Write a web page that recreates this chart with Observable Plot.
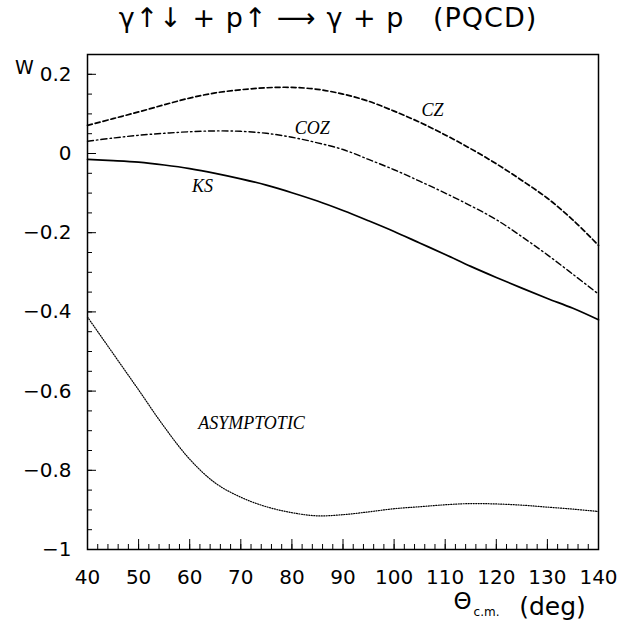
<!DOCTYPE html>
<html><head><meta charset="utf-8">
<script src="https://cdn.jsdelivr.net/npm/d3@7"></script>
<script src="https://cdn.jsdelivr.net/npm/@observablehq/plot@0.6"></script>
<style>body{margin:0;background:#fff}</style>
</head><body><div id="chart"></div>
<script>
// Data
const theta = [40,45,50,55,60,65,70,75,80,85,90,95,100,105,110,115,120,125,130,135,140];
const czValues   = [0.071,0.088,0.105,0.123,0.140,0.153,0.161,0.166,0.167,0.162,0.150,0.132,0.107,0.079,0.047,0.012,-0.026,-0.068,-0.113,-0.168,-0.232];
const cozValues  = [0.031,0.039,0.046,0.051,0.055,0.057,0.056,0.051,0.041,0.027,0.010,-0.015,-0.041,-0.070,-0.100,-0.132,-0.167,-0.210,-0.256,-0.305,-0.355];
const ksValues   = [-0.015,-0.018,-0.022,-0.029,-0.038,-0.050,-0.064,-0.080,-0.099,-0.120,-0.144,-0.170,-0.197,-0.226,-0.255,-0.285,-0.313,-0.340,-0.366,-0.391,-0.420];
const asymValues = [-0.413,-0.505,-0.597,-0.690,-0.772,-0.832,-0.868,-0.892,-0.907,-0.915,-0.912,-0.905,-0.897,-0.892,-0.887,-0.884,-0.885,-0.888,-0.893,-0.898,-0.904];

const seriesNames = ["CZ","COZ","KS","ASYMPTOTIC"];
const seriesValues = [czValues, cozValues, ksValues, asymValues];
const labelTheta = [107.5, 84.0, 62.5, 72.1];
const labelValue = [0.109, 0.063, -0.083, -0.682];

const xMajorTicks = [40,50,60,70,80,90,100,110,120,130,140];
const xMinorTicks = d3.range(40, 141, 2);
const yMajorTicks = [-1,-0.8,-0.6,-0.4,-0.2,0,0.2];
const yMinorTicks = d3.range(-1, 0.2501, 0.05).map(v => +v.toFixed(2));

const titleText = "γ↑↓ + p↑ ⟶ γ + p \u00a0 (PQCD)";
const yLabelText = "W";

const styles = {
  CZ: {strokeDasharray: "5,3", strokeWidth: 1.7},
  COZ: {strokeDasharray: "6,3,1.5,3", strokeWidth: 1.4},
  KS: {strokeDasharray: null, strokeWidth: 1.7},
  ASYMPTOTIC: {strokeDasharray: "1,1.5", strokeWidth: 1.2}
};

const lineMarks = seriesNames.map((name, i) => {
  const data = theta.map((t, j) => ({theta: t, value: seriesValues[i][j]}));
  return Plot.line(data, {x: "theta", y: "value", stroke: "black", curve: "catmull-rom", ...styles[name]});
});

const labels = seriesNames.map((n, i) => ({name: n, theta: labelTheta[i], value: labelValue[i]}));
const fmt = d => d === 0 ? "0" : (d < 0 ? "\u2212" : "") + String(Math.abs(d));
const sans = "'DejaVu Sans', sans-serif";

const plot = Plot.plot({
  width: 637, height: 623,
  marginLeft: 87, marginRight: 39, marginTop: 54, marginBottom: 74,
  style: {fontFamily: sans, fontSize: "20px", background: "white", color: "black"},
  x: {domain: [40, 140]},
  y: {domain: [-1, 0.25]},
  marks: [
    ...lineMarks,
    Plot.text(labels, {x: "theta", y: "value", text: "name", fontFamily: "'Liberation Serif', serif", fontStyle: "italic", fontSize: 18, fill: "black"}),
    Plot.frame({stroke: "black", strokeWidth: 1.5}),
    Plot.axisX({ticks: xMajorTicks, tickSize: -10, tickPadding: 30, tickFormat: d => String(d), label: null, fontSize: 20}),
    Plot.axisX({ticks: xMinorTicks, tickSize: -5, tickFormat: () => "", label: null}),
    Plot.axisY({ticks: yMajorTicks, tickSize: -9, tickPadding: 25, tickFormat: fmt, label: null, fontSize: 20}),
    Plot.axisY({ticks: yMinorTicks, tickSize: -5, tickFormat: () => "", label: null}),
    Plot.text([titleText], {frameAnchor: "top", lineAnchor: "middle", textAnchor: "middle", dy: -36, dx: -15, fontSize: 27, fill: "black"}),
    Plot.text([yLabelText], {frameAnchor: "top-left", lineAnchor: "middle", textAnchor: "middle", dx: -63, dy: 13, fontSize: 19, fill: "black"}),
    Plot.text(["Θ"], {frameAnchor: "bottom-right", lineAnchor: "middle", textAnchor: "middle", dx: -136, dy: 52, fontSize: 23, fill: "black"}),
    Plot.text(["c.m."], {frameAnchor: "bottom-right", lineAnchor: "middle", textAnchor: "middle", dx: -112, dy: 63, fontSize: 12, fill: "black"}),
    Plot.text(["(deg)"], {frameAnchor: "bottom-right", lineAnchor: "middle", textAnchor: "middle", dx: -46, dy: 57, fontSize: 25, fill: "black"})
  ]
});
d3.select(plot).selectAll("text").filter(function() { return this.textContent === titleText; }).attr("letter-spacing", 1);
document.getElementById("chart").appendChild(plot);
</script>
</body></html>
